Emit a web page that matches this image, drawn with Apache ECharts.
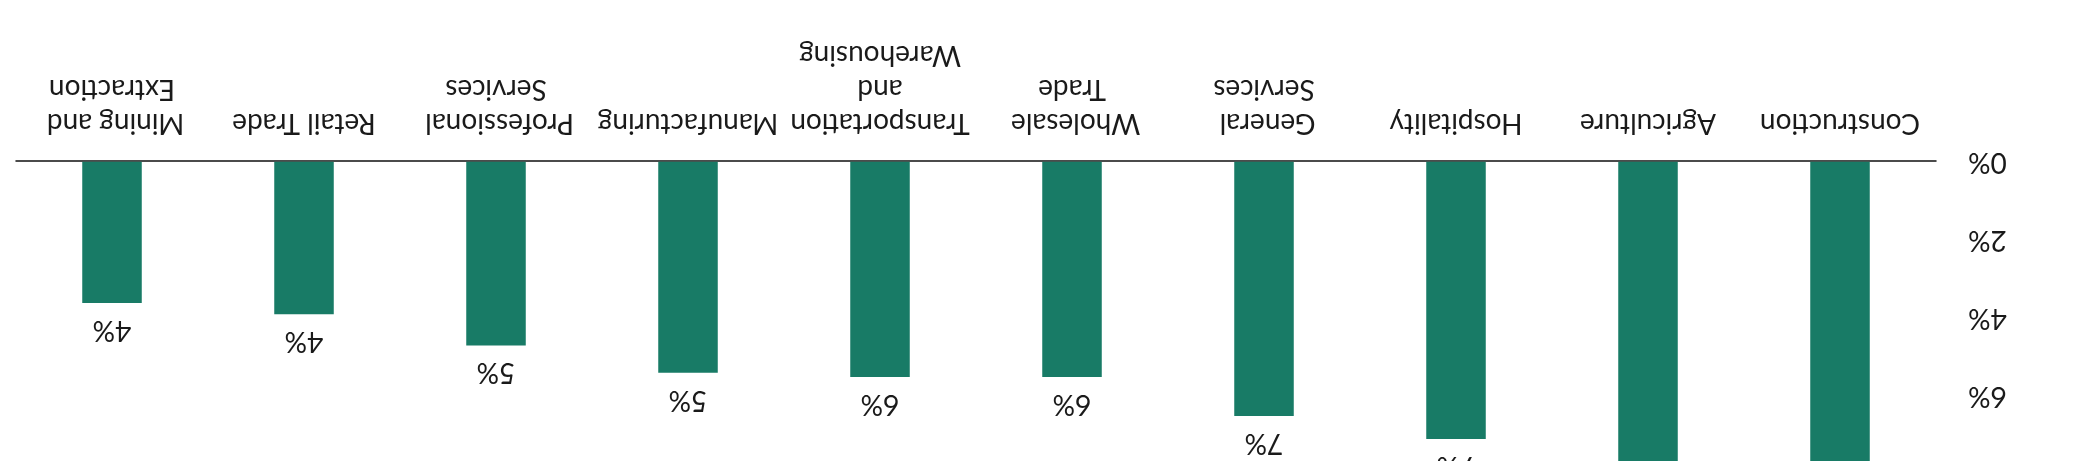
<!DOCTYPE html>
<html>
<head>
<meta charset="utf-8">
<script src="https://cdn.jsdelivr.net/npm/echarts@6/dist/echarts.min.js"></script>
<style>
    html, body {
        margin: 0;
        padding: 0;
        background: #fff;
        overflow: hidden;
    }

    /* the reference is drawn upside down, so the whole chart is turned */
    #chart {
        width: 2075px;
        height: 461px;
        transform: rotate(180deg);
    }
</style>
</head>
<body>
<div id="chart"></div>
<script>
// sectors, sorted from largest share to smallest
const sectors = [
    'Construction',
    'Agriculture',
    'Hospitality',
    'General Services',
    'Wholesale Trade',
    'Transportation and Warehousing',
    'Manufacturing',
    'Professional Services',
    'Retail Trade',
    'Mining and Extraction'
];

// share of each sector, in percent
const shares = [8.6, 8.0, 7.11, 6.52, 5.52, 5.52, 5.41, 4.71, 3.91, 3.62];

// value axis ticks
const tickMin = 0;
const tickMax = 10;
const tickStep = 2;

const textFont = 'Lato';
const textColor = '#1a1a1a';

const chart = echarts.init(document.getElementById('chart'));

const option = {
    animation: false,
    grid: {
        left: 139,
        right: 16,
        top: -90.7,
        bottom: 161.7,
        containLabel: false,
        outerBoundsMode: 'none'
    },
    xAxis: {
        type: 'category',
        data: sectors,
        axisLine: {
            show: true,
            lineStyle: {
                color: '#111',
                width: 1.5
            }
        },
        axisTick: { show: false },
        axisLabel: {
            interval: 0,
            margin: 22,
            fontFamily: textFont,
            fontSize: 28,
            lineHeight: 34,
            color: textColor,
            width: 185,
            overflow: 'break'
        }
    },
    yAxis: {
        type: 'value',
        min: tickMin,
        max: tickMax,
        interval: tickStep,
        axisLine: { show: false },
        axisTick: { show: false },
        splitLine: { show: false },
        axisLabel: {
            margin: 32,
            fontFamily: textFont,
            fontSize: 28,
            color: textColor,
            formatter: (v) => v + '%'
        }
    },
    series: [
        {
            type: 'bar',
            data: shares,
            barWidth: '31%',
            itemStyle: {
                color: '#187b66'
            },
            label: {
                show: true,
                position: 'top',
                distance: 13,
                fontFamily: textFont,
                fontSize: 28,
                lineHeight: 28,
                color: textColor,
                formatter: (p) => Math.round(p.value) + '%'
            }
        }
    ]
};

chart.setOption(option);
</script>
</body>
</html>
